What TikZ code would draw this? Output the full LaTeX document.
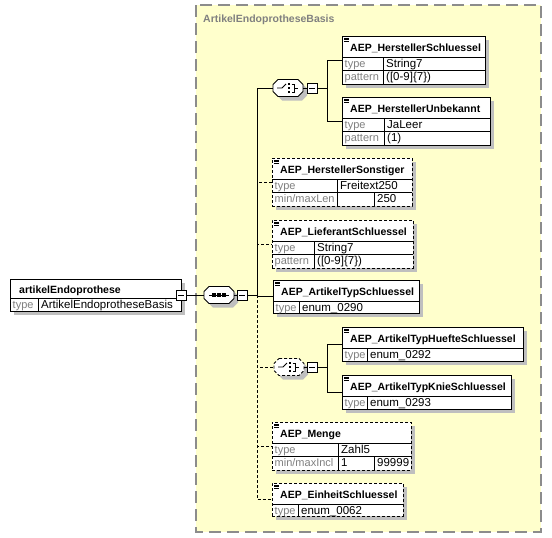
\documentclass[tikz,border=0pt]{standalone}
\usepackage{fontspec}
\setmainfont{Liberation Sans}
\usetikzlibrary{shadows}
\definecolor{panelfill}{HTML}{FFFFCC}
\definecolor{panelline}{HTML}{8C8C8C}
\definecolor{lbl}{HTML}{808080}
\tikzset{
  shade/.style={drop shadow={shadow xshift=4pt,shadow yshift=-4pt,fill=black!25,opacity=1}},
  elembox/.style={draw,fill=white,rectangle,line width=0.8pt,inner sep=0pt,outer sep=0pt,anchor=north west,shade},
  opt/.style={dash pattern=on 3pt off 2pt},
  compnode/.style={rectangle,minimum width=30pt,minimum height=17pt,inner sep=0pt,outer sep=0pt},
  minusbox/.style={draw,fill=white,minimum size=10pt,inner sep=0pt,outer sep=0pt,line width=0.7pt,
    path picture={\draw[line width=0.7pt] ([xshift=2pt]path picture bounding box.west) -- ([xshift=-2pt]path picture bounding box.east);}},
  ttl/.style={font=\fontsize{10.5}{12}\selectfont\bfseries,inner sep=0pt,anchor=base west},
  lab/.style={font=\fontsize{11}{12}\selectfont,text=lbl,inner sep=0pt,anchor=base west},
  val/.style={font=\fontsize{11.5}{12}\selectfont,inner sep=0pt,anchor=base west},
  conn/.style={line width=0.8pt}
}
% element box: [style]{name}{north west}{width}{height}{title}
\newcommand\elem[6][]{%
  \node[elembox,#1,minimum width=#4pt,minimum height=#5pt] (#2) at (#3) {};
  \node[ttl] at ([xshift=8pt,yshift=-15pt]#2.north west) {#6};
  \foreach \k in {2,3.5,5} \draw[line width=0.5pt] ([xshift=2pt,yshift=-\k pt]#2.north west) -- ++(5,0);
}
% row: {box}{top}{height}{column}{label}{value}
\newcommand\erow[6]{%
  \draw[line width=0.6pt] ([yshift=-#2pt]#1.north west) -- ([yshift=-#2pt]#1.north east);
  \draw[line width=0.6pt] ([xshift=#4pt,yshift=-#2pt]#1.north west) -- ++(0,#3);
  \node[lab] at ([xshift=2.5pt,yshift=-#2pt-10pt]#1.north west) {#5};
  \node[val] at ([xshift=#4pt+3pt,yshift=-#2pt-10pt]#1.north west) {#6};
}
% extra column: {box}{top}{height}{column}{value}
\newcommand\ecol[5]{%
  \draw[line width=0.6pt] ([xshift=#4pt,yshift=-#2pt]#1.north west) -- ++(0,#3);
  \node[val] at ([xshift=#4pt+3pt,yshift=-#2pt-10pt]#1.north west) {#5};
}
% compositor: [style]{name}{centre}
\newcommand\comp[3][]{%
  \node[compnode] (#2) at (#3) {};
  \begin{scope}[shift={(#3)}]
    \fill[black!25,shift={(4,4)}] (-10,-8.5) -- (10,-8.5) -- (15,-3.5) -- (15,3.5) -- (10,8.5) -- (-10,8.5) -- (-15,3.5) -- (-15,-3.5) -- cycle;
    \draw[fill=white,line width=0.8pt,#1] (-10,-8.5) -- (10,-8.5) -- (15,-3.5) -- (15,3.5) -- (10,8.5) -- (-10,8.5) -- (-15,3.5) -- (-15,-3.5) -- cycle;
  \end{scope}}
\newcommand\seqsym[1]{%
  \begin{scope}[shift={(#1)}]
    \draw[line width=0.8pt] (-10,0) -- (10,0);
    \foreach \k in {-5,0,5} \fill (\k-1.6,-1.6) rectangle ++(3.2,3.2);
  \end{scope}}
\newcommand\choicesym[1]{%
  \begin{scope}[shift={(#1)},line width=0.9pt]
    \draw (-11,0) -- (-6,0) -- (-2,-4);
    \foreach \k in {-4,0,4} \fill (-0.5,\k-1.4) rectangle ++(2.8,2.8);
    \draw (3.5,-4) -- (6.5,-4) -- (6.5,4) -- (3.5,4);
    \draw (6.5,0) -- (10,0);
  \end{scope}}

\begin{document}
\begin{tikzpicture}[x=1pt,y=-1pt]
  \useasboundingbox (0,0) rectangle (552,538);
  % complex type panel
  \draw[panelline,fill=panelfill,line width=1.5pt,dash pattern=on 12pt off 6pt] (196,5) rectangle (541,532);
  \node[ttl,text=lbl] (basis) at (203,22) {ArtikelEndoprotheseBasis};

  % root element
  \node[elembox,minimum width=171pt,minimum height=32pt] (root) at (10,279) {};
  \node[ttl] at ([xshift=9pt,yshift=-14pt]root.north west) {artikelEndoprothese};
  \erow{root}{19}{13}{28}{type}{ArtikelEndoprotheseBasis}
  \node[minusbox] (rootm) at (root.east) {};

  % sequence
  \comp{seq}{219,295}
  \seqsym{219,295}
  \node[minusbox] (seqm) at (242,295) {};
  \coordinate (trunk) at (257,295);

  % first choice
  \comp{ch1}{288,88}
  \choicesym{288,88}
  \node[minusbox] (ch1m) at (312,88) {};
  \coordinate (bar1) at (327,88);

  % second choice (optional)
  \comp[opt]{ch2}{289,367}
  \choicesym{289,367}
  \node[minusbox] (ch2m) at (312,367) {};
  \coordinate (bar2) at (327,367);

  % elements
  \elem{hs}{342,36}{143}{48}{AEP\_HerstellerSchluessel}
  \erow{hs}{21}{13.5}{41}{type}{String7}
  \erow{hs}{34.5}{13.5}{41}{pattern}{([0-9]\{7\})}

  \elem{hu}{342,97}{148}{48}{AEP\_HerstellerUnbekannt}
  \erow{hu}{21}{13.5}{42}{type}{JaLeer}
  \erow{hu}{34.5}{13.5}{42}{pattern}{(1)}

  \elem[opt]{hso}{272,158}{140}{48}{AEP\_HerstellerSonstiger}
  \erow{hso}{21}{13.5}{65}{type}{Freitext250}
  \erow{hso}{34.5}{13.5}{65}{min/maxLen}{}
  \ecol{hso}{34.5}{13.5}{102}{250}

  \elem[opt]{ls}{272,220}{141}{48}{AEP\_LieferantSchluessel}
  \erow{ls}{21}{13.5}{42}{type}{String7}
  \erow{ls}{34.5}{13.5}{42}{pattern}{([0-9]\{7\})}

  \elem{ats}{273,280}{146}{33}{AEP\_ArtikelTypSchluessel}
  \erow{ats}{21}{12}{26}{type}{enum\_0290}

  \elem{ath}{342,327}{181}{34}{AEP\_ArtikelTypHuefteSchluessel}
  \erow{ath}{21}{13}{25}{type}{enum\_0292}

  \elem{atk}{342,375}{169}{34}{AEP\_ArtikelTypKnieSchluessel}
  \erow{atk}{21}{13}{25}{type}{enum\_0293}

  \elem[opt]{me}{272,422}{139}{48}{AEP\_Menge}
  \erow{me}{21}{13.5}{66}{type}{Zahl5}
  \erow{me}{34.5}{13.5}{66}{min/maxIncl}{1}
  \ecol{me}{34.5}{13.5}{102}{99999}

  \elem[opt]{eh}{272,483}{131}{33}{AEP\_EinheitSchluessel}
  \erow{eh}{21}{12}{26}{type}{enum\_0062}

  % connectors
  \draw[conn] (rootm) -- (seq);
  \draw[conn] (seq) -- (seqm);
  \draw[conn] (seqm) -- (trunk);
  \draw[conn] (trunk) |- (ch1);
  \draw[conn] (trunk) |- (ats);
  \draw[conn,opt] (trunk) |- (hso);
  \draw[conn,opt] (trunk) |- (ls);
  \draw[conn,opt] (trunk) |- (ch2);
  \draw[conn,opt] (trunk) |- (me);
  \draw[conn,opt] (trunk) |- (eh);
  \draw[conn] (ch1) -- (ch1m);
  \draw[conn] (ch1m) -- (bar1);
  \draw[conn] (bar1) |- (hs);
  \draw[conn] (bar1) |- (hu);
  \draw[conn] (ch2) -- (ch2m);
  \draw[conn] (ch2m) -- (bar2);
  \draw[conn] (bar2) |- (ath);
  \draw[conn] (bar2) |- (atk);
\end{tikzpicture}
\end{document}
